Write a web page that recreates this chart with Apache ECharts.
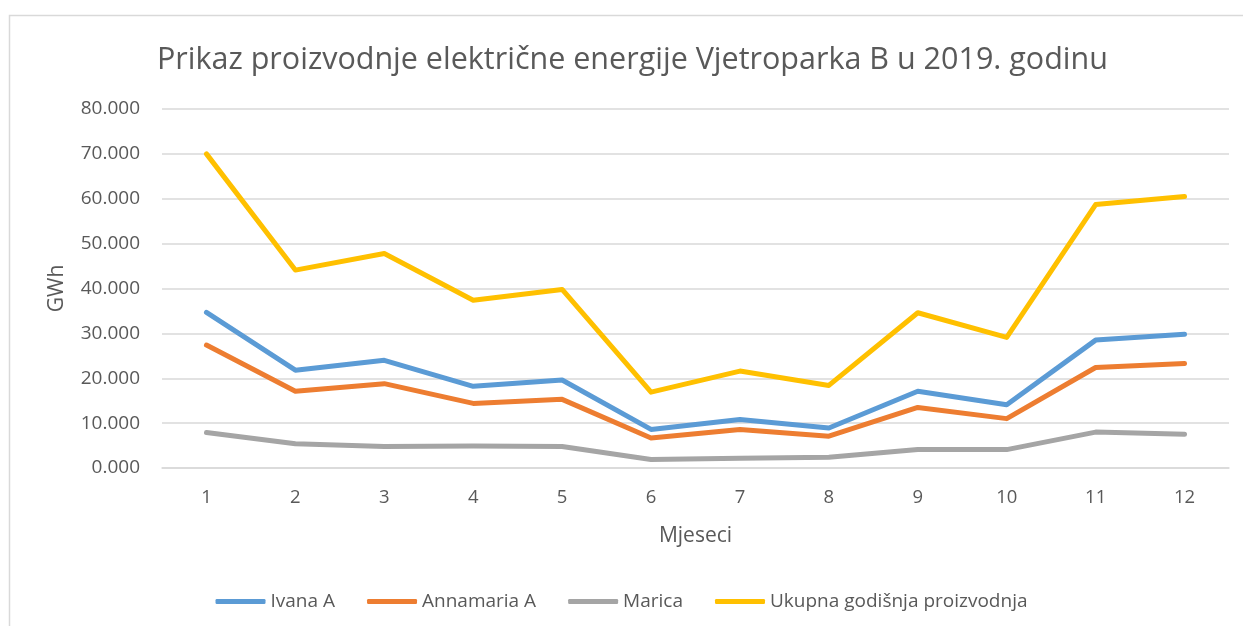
<!DOCTYPE html>
<html>
<head>
<meta charset="utf-8">
<title>Vjetropark B 2019</title>
<script src="https://cdn.jsdelivr.net/npm/echarts@6/dist/echarts.min.js"></script>
<style>
  html, body { margin: 0; padding: 0; background: #ffffff; }
  #chart { width: 1243px; height: 626px; }
</style>
</head>
<body>
<div id="chart"></div>
<script>
// Months of 2019 (x axis)
const months = ['1', '2', '3', '4', '5', '6', '7', '8', '9', '10', '11', '12'];

// Monthly electricity production per turbine, GWh
const ivanaA = [34.7, 21.8, 24.0, 18.2, 19.6, 8.6, 10.8, 8.9, 17.1, 14.1, 28.5, 29.8];
const annamariaA = [27.4, 17.1, 18.8, 14.4, 15.3, 6.7, 8.6, 7.1, 13.5, 11.0, 22.4, 23.3];
const marica = [7.9, 5.4, 4.8, 4.9, 4.8, 1.9, 2.2, 2.4, 4.1, 4.1, 8.0, 7.5];
const ukupno = [70.0, 44.1, 47.8, 37.4, 39.8, 16.9, 21.6, 18.4, 34.6, 29.1, 58.7, 60.5];

const seriesNames = ['Ivana A', 'Annamaria A', 'Marica', 'Ukupna godišnja proizvodnja'];
const seriesColors = ['#5B9BD5', '#ED7D31', '#A5A5A5', '#FFC000'];
const seriesData = [ivanaA, annamariaA, marica, ukupno];

const FONT = '"Open Sans", "DejaVu Sans", sans-serif';
const TEXT = '#595959';

const chart = echarts.init(document.getElementById('chart'), null, { renderer: 'canvas' });

chart.setOption({
  backgroundColor: '#ffffff',
  animation: false,
  textStyle: { fontFamily: FONT },
  graphic: [{
    type: 'rect',
    shape: { x: 9.5, y: 15.5, width: 1260, height: 640 },
    style: { fill: 'none', stroke: '#D9D9D9', lineWidth: 1.5 },
    silent: true,
    z: -1
  }],
  title: {
    text: 'Prikaz proizvodnje električne energije Vjetroparka B u 2019. godinu',
    left: 152,
    top: 40,
    textStyle: { fontFamily: FONT, fontSize: 30.5, fontWeight: 'normal', color: TEXT }
  },
  legend: {
    bottom: 10,
    left: 'center',
    itemWidth: 50,
    itemHeight: 5,
    itemGap: 32,
    icon: 'roundRect',
    data: seriesNames,
    textStyle: { fontFamily: FONT, fontSize: 19, color: TEXT }
  },
  grid: { left: 162, right: 14, top: 109, bottom: 158 },
  xAxis: {
    type: 'category',
    data: months,
    boundaryGap: true,
    name: 'Mjeseci',
    nameLocation: 'middle',
    nameGap: 58,
    nameTextStyle: { fontFamily: FONT, fontSize: 21, color: TEXT },
    axisLine: { show: true, lineStyle: { color: '#D9D9D9', width: 1.5 } },
    axisTick: { show: false },
    axisLabel: { fontFamily: FONT, fontSize: 18.5, color: TEXT, margin: 20 }
  },
  yAxis: {
    type: 'value',
    min: 0,
    max: 80,
    interval: 10,
    name: 'GWh',
    nameLocation: 'middle',
    nameGap: 94,
    nameTextStyle: { fontFamily: FONT, fontSize: 21, color: TEXT },
    axisLine: { show: false },
    axisTick: { show: false },
    splitLine: { lineStyle: { color: '#D9D9D9', width: 1.5 } },
    axisLabel: {
      fontFamily: FONT, fontSize: 19, color: TEXT, margin: 22,
      formatter: v => v.toFixed(3)
    }
  },
  series: seriesNames.map((name, i) => ({
    name: name,
    type: 'line',
    data: seriesData[i],
    symbol: 'none',
    color: seriesColors[i],
    lineStyle: { width: 5, color: seriesColors[i], cap: 'round', join: 'round' }
  }))
});
</script>
</body>
</html>
